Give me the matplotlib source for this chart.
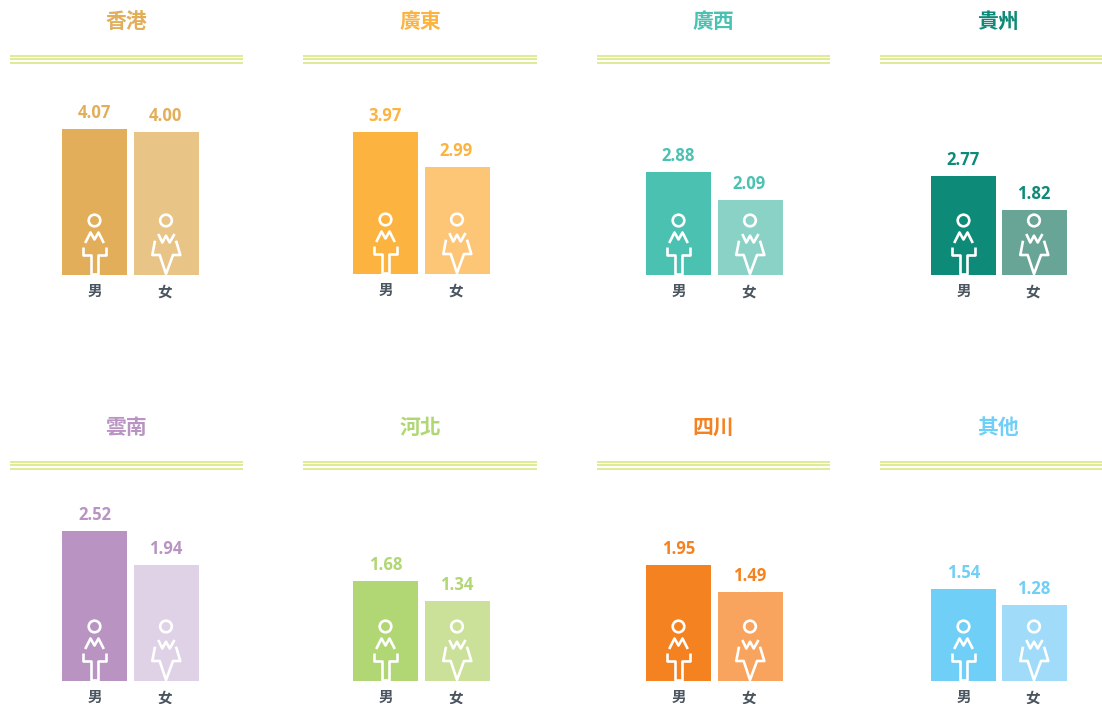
import matplotlib
matplotlib.use("Agg")
import matplotlib.pyplot as plt
from matplotlib.patches import Circle

plt.rcParams['font.family'] = ['Noto Sans CJK TC', 'DejaVu Sans']

W, H = 1102, 704

# data
regions = ['香港', '廣東', '廣西', '貴州', '雲南', '河北', '四川', '其他']
male = [4.07, 3.97, 2.88, 2.77, 2.52, 1.68, 1.95, 1.54]
female = [4.00, 2.99, 2.09, 1.82, 1.94, 1.34, 1.49, 1.28]
sex_labels = ['男', '女']

# colours
dark = ['#e2ae5a', '#fcb33f', '#4bc1b2', '#0e8a78', '#b994c2', '#b1d774', '#f58220', '#6fcff6']
light = ['#e9c487', '#fdc677', '#8ad2c6', '#68a596', '#dfd2e6', '#cbe098', '#f9a45e', '#a0dcf9']

# layout, in pixels
bar_left = [62, 353, 646, 931, 62, 353, 646, 931]
bar_pitch = [72, 72, 72, 71, 72, 72, 72, 71]
baseline = [275, 274, 275, 275, 681, 681, 681, 681]
title_x = [126, 420, 713, 998, 126, 420, 713, 998]
rule_x = [(10, 243), (303, 537), (597, 830), (880, 1102)] * 2
bar_w = 65
px_per_unit = [35.85, 35.85, 35.85, 35.85, 59.6, 59.6, 59.6, 59.6]

# people icons, offsets from bar centre and baseline
man_arms = ([-9.3, -4, 0, 4, 9.3], [-32, -42.5, -35.5, -42.5, -32])
man_body = ([-11.8, -11.8, -3.7, -3.7, 3.7, 3.7, 11.8, 11.8], [-27.7, -20, -20, -1, -1, -20, -20, -27.7])
woman_arms = ([-7.7, -3.7, 0, 3.7, 8.5], [-41, -32.5, -39.3, -32.5, -41])
woman_body = ([-11, -13.7, -6.3, 0, 7, 14.3, 10], [-34.3, -20, -20, -1, -20, -20, -34.3])

fig = plt.figure(figsize=(W / 100, H / 100), dpi=100, facecolor='white')

overlay = fig.add_axes([0, 0, 1, 1], zorder=5)
overlay.set_xlim(0, W)
overlay.set_ylim(H, 0)
overlay.axis('off')


def draw_person(cx, base, arms, body):
    overlay.add_patch(Circle((cx, base - 54.5), 5.8, fc='none', ec='white', lw=1.9))
    for xs, ys in (arms, body):
        overlay.plot([cx + x for x in xs], [base + y for y in ys], color='white', lw=1.9,
                     solid_joinstyle='round', solid_capstyle='butt')


for i, region in enumerate(regions):
    left = bar_left[i]
    pitch = bar_pitch[i]
    base = baseline[i]
    scale = px_per_unit[i]
    ax_w = pitch + bar_w
    ax_h = 4.6 * scale
    ax = fig.add_axes([left / W, (H - base) / H, ax_w / W, ax_h / H], facecolor='none')
    w = bar_w / pitch
    ax.set_xlim(-w / 2, 1 + w / 2)
    ax.set_ylim(0, 4.6)
    bars = ax.bar([0, 1], [male[i], female[i]], width=w, color=[dark[i], light[i]])
    for k, b in enumerate(bars):
        ax.annotate('%.2f' % b.get_height(), (b.get_x() + b.get_width() / 2, b.get_height()),
                    xytext=(-k, 7), textcoords='offset pixels', ha='center', va='bottom',
                    color=dark[i], fontsize=12, fontweight='bold', family=['Open Sans', 'DejaVu Sans'])
    ax.set_xticks([0, 1 - 1.5 / pitch], sex_labels, fontsize=10.5, fontweight='bold', color='#4a5560')
    ax.tick_params(axis='x', length=0, pad=6)
    ax.set_yticks([])
    for s in ax.spines.values():
        s.set_visible(False)

    row_top = 0 if i < 4 else 406
    overlay.text(title_x[i], row_top + 21.5, region, ha='center', va='center', color=dark[i],
                 fontsize=15, fontweight='bold')
    for y in (55.5, 59, 62.5):
        overlay.plot(rule_x[i], [row_top + y, row_top + y], color='#dce98f', lw=1.3, solid_capstyle='butt')

    draw_person(left + bar_w / 2, base, man_arms, man_body)
    draw_person(left + pitch + bar_w / 2 - 0.5, base, woman_arms, woman_body)

overlay.set_xlim(0, W)
overlay.set_ylim(H, 0)
fig.savefig('out.png', dpi=100)
